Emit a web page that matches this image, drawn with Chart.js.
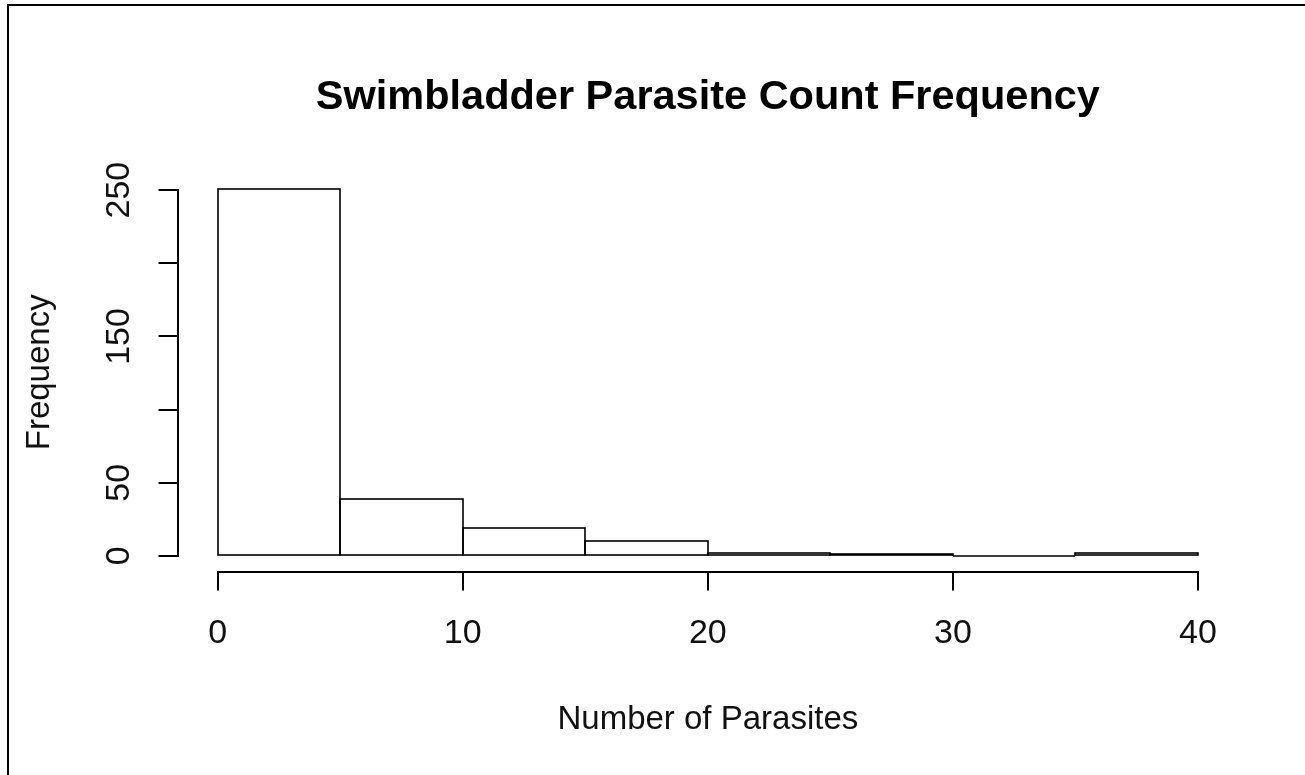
<!DOCTYPE html>
<html>
<head>
<meta charset="utf-8">
<title>Swimbladder Parasite Count Frequency</title>
<script src="https://cdn.jsdelivr.net/npm/chart.js@4.4.1/dist/chart.umd.min.js"></script>
<style>
  html, body { margin: 0; padding: 0; background: #fff; }
  #wrap { position: relative; width: 1305px; height: 775px; overflow: hidden; }
  /* frame of the original screenshot: top and left edge only */
  #frame { position: absolute; left: 7px; top: 4px; width: 1400px; height: 900px;
           border-top: 2px solid #000; border-left: 2px solid #000; pointer-events: none; }
</style>
</head>
<body>
<div id="wrap">
  <canvas id="hist" width="1305" height="775"></canvas>
  <div id="frame"></div>
</div>
<script>
// ---- data ----
const binStarts = [0, 5, 10, 15, 20, 25, 30, 35];   // left edge of each bin
const binWidth = 5;
const counts = [251, 39, 19, 10, 2, 1, 0, 2];        // frequency per bin

const xTicks = [0, 10, 20, 30, 40];
const yTicks = [0, 50, 100, 150, 200, 250];
const yTickLabels = [0, 50, 150, 250];               // R dropped 100 and 200 (overlap)

// R-style plot region: data range extended by 4% each side
const xMin = -1.6, xMax = 41.6;
const yMin = -10.04, yMax = 261.04;

const FONT = "'Liberation Sans', Arial, Helvetica, sans-serif";
Chart.defaults.font.family = FONT;
Chart.defaults.color = "#111";

// outline each bar like R's rect(): stroke centred on the edges, zero-height bins become a line
const rBars = {
  id: "rBars",
  afterDatasetsDraw(chart) {
    const { ctx } = chart;
    ctx.save();
    ctx.strokeStyle = "#000";
    ctx.lineWidth = 1.6;
    chart.getDatasetMeta(0).data.forEach(el => {
      const { x, y, base, width } = el.getProps(["x", "y", "base", "width"], true);
      const l = Math.round(x - width / 2), r = Math.round(x + width / 2);
      const t = Math.round(y), b = Math.round(base);
      ctx.strokeRect(l, t, r - l, b - t);
    });
    ctx.restore();
  }
};

// axis lines only run from first to last tick, like base R graphics
const rAxes = {
  id: "rAxes",
  afterDraw(chart) {
    const { ctx, chartArea, scales: { x, y } } = chart;
    ctx.save();
    ctx.strokeStyle = "#000";
    ctx.lineWidth = 2;
    ctx.lineCap = "square";
    ctx.beginPath();
    const yb = Math.round(chartArea.bottom) + 1;
    ctx.moveTo(Math.round(x.getPixelForValue(xTicks[0])), yb);
    ctx.lineTo(Math.round(x.getPixelForValue(xTicks[xTicks.length - 1])), yb);
    const xl = Math.round(chartArea.left) - 1;
    ctx.moveTo(xl, Math.round(y.getPixelForValue(yTicks[0])));
    ctx.lineTo(xl, Math.round(y.getPixelForValue(yTicks[yTicks.length - 1])));
    ctx.stroke();
    ctx.restore();
  }
};

new Chart(document.getElementById("hist"), {
  type: "bar",
  data: {
    datasets: [{
      data: binStarts.map((s, i) => ({ x: s + binWidth / 2, y: counts[i] })),
      backgroundColor: "#fff",
      borderWidth: 0,
      barPercentage: 1,
      categoryPercentage: 1
    }]
  },
  options: {
    responsive: false,
    animation: false,
    events: [],
    layout: { padding: { top: 0, left: 0, right: 67.8, bottom: 0 } },
    plugins: {
      legend: { display: false },
      tooltip: { enabled: false },
      title: {
        display: true,
        fullSize: false,
        text: "Swimbladder Parasite Count Frequency",
        color: "#000",
        font: { size: 41.5, weight: "bold" },
        padding: { top: 73, bottom: 51.2 }
      }
    },
    scales: {
      x: {
        type: "linear",
        min: xMin,
        max: xMax,
        offset: false,
        afterBuildTicks: s => { s.ticks = xTicks.map(v => ({ value: v })); },
        afterFit: s => { s.height = 204.4; },
        border: { display: false },
        grid: { offset: false, drawOnChartArea: false, drawTicks: true, tickLength: 20, color: "#000", lineWidth: 2 },
        ticks: {
          autoSkip: false, minRotation: 0, maxRotation: 0, padding: 23,
          font: { size: 34 }, color: "#111",
          callback: v => String(v)
        },
        title: {
          display: true, text: "Number of Parasites", color: "#111",
          font: { size: 33 }, padding: { top: 0, bottom: 35 }
        }
      },
      y: {
        type: "linear",
        min: yMin,
        max: yMax,
        afterBuildTicks: s => { s.ticks = yTicks.map(v => ({ value: v })); },
        afterFit: s => { s.width = 178.5; },
        border: { display: false },
        grid: { drawOnChartArea: false, drawTicks: true, tickLength: 20, color: "#000", lineWidth: 2 },
        ticks: {
          autoSkip: false, minRotation: 90, maxRotation: 90, crossAlign: "center", padding: 11,
          font: { size: 34 }, color: "#111",
          callback: v => yTickLabels.includes(v) ? String(v) : ""
        },
        title: {
          display: true, text: "Frequency", color: "#111",
          font: { size: 33 }, padding: { top: 20, bottom: 0 }
        }
      }
    }
  },
  plugins: [rBars, rAxes]
});
</script>
</body>
</html>
